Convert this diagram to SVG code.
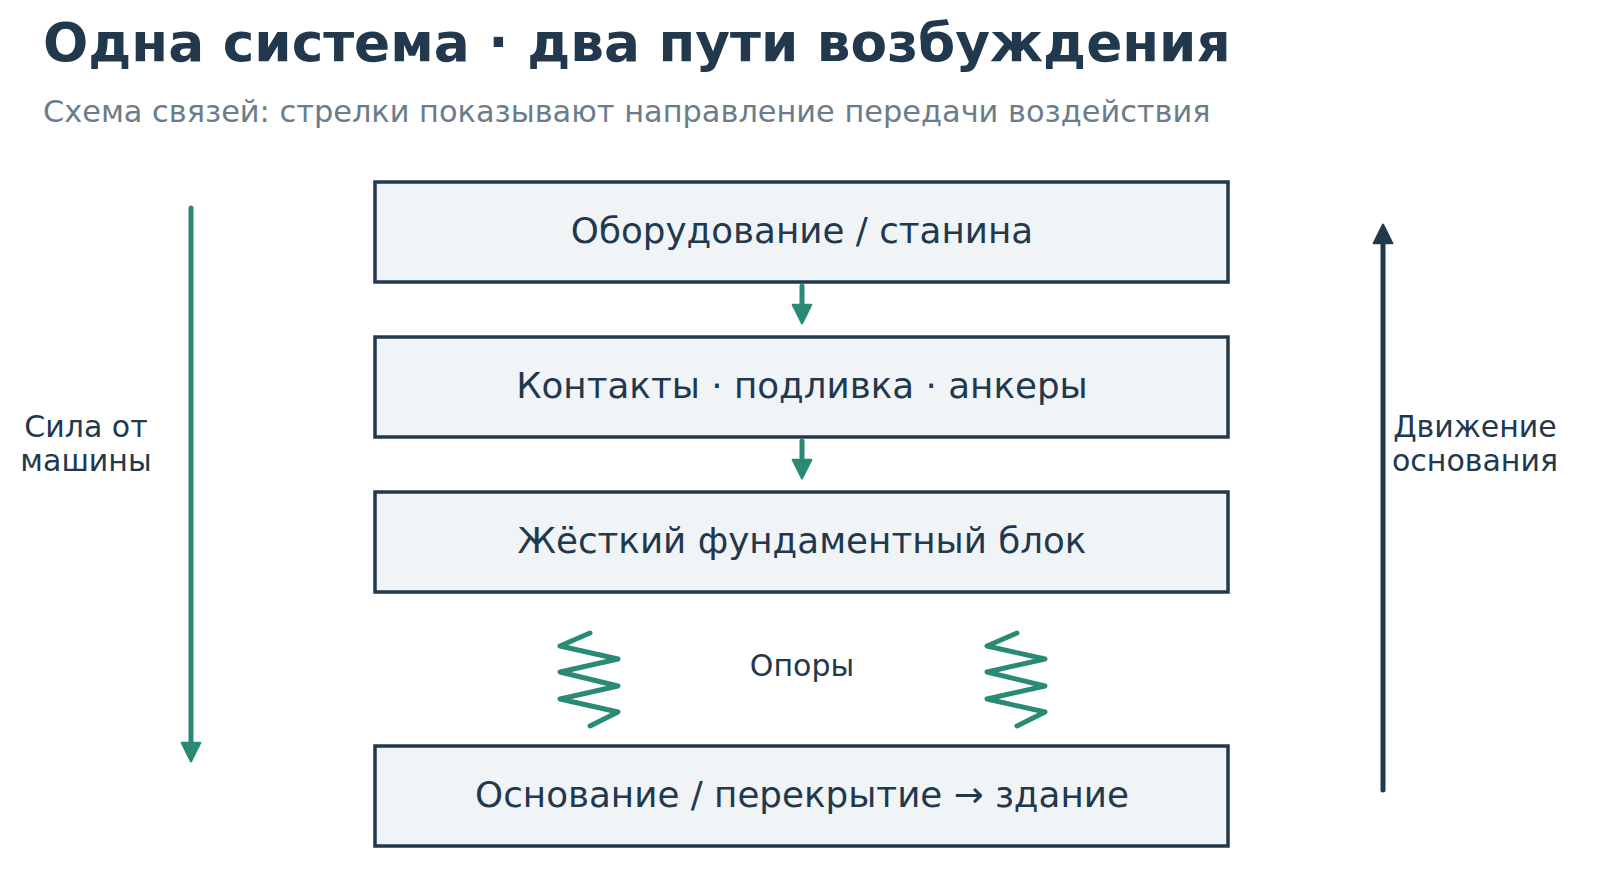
<svg xmlns="http://www.w3.org/2000/svg" width="1600" height="885" viewBox="0 0 1600 885">
<defs>
<style>
text{font-family:"DejaVu Sans","Noto Sans",sans-serif;fill:#22384d}
.box{fill:#f1f4f6;stroke:#22384d;stroke-width:3.5}
.bt{font-size:35.7px;text-anchor:middle}
.lbl{font-size:30px;text-anchor:middle}
.teal{stroke:#2a8a74;stroke-width:5;fill:none;stroke-linecap:round;stroke-linejoin:round}
.dark{stroke:#22384d;stroke-width:5;fill:none;stroke-linecap:round}
</style>
<marker id="ht" viewBox="0 0 10 10" refX="5" refY="5" markerWidth="4.6" markerHeight="4.6" orient="auto"><path d="M1,1 L9,5 L1,9 Z" fill="#2a8a74" stroke="#2a8a74" stroke-linejoin="round"/></marker>
<marker id="hd" viewBox="0 0 10 10" refX="5" refY="5" markerWidth="4.6" markerHeight="4.6" orient="auto"><path d="M1,1 L9,5 L1,9 Z" fill="#22384d" stroke="#22384d" stroke-linejoin="round"/></marker>
</defs>
<rect width="1600" height="885" fill="#fff"/>
<text x="43" y="61" style="font-size:53.3px;font-weight:bold">Одна система · два пути возбуждения</text>
<text x="43" y="122" style="font-size:30.4px;fill:#6b7c8a">Схема связей: стрелки показывают направление передачи воздействия</text>
<g id="n1"><rect class="box" x="375" y="182" width="853" height="100"/><text class="bt" x="802" y="243">Оборудование / станина</text></g>
<g id="n2"><rect class="box" x="375" y="337" width="853" height="100"/><text class="bt" x="802" y="398">Контакты · подливка · анкеры</text></g>
<g id="n3"><rect class="box" x="375" y="492" width="853" height="100"/><text class="bt" x="802" y="553">Жёсткий фундаментный блок</text></g>
<g id="n4"><rect class="box" x="375" y="746" width="853" height="100"/><text class="bt" x="802" y="807">Основание / перекрытие → здание</text></g>
<g id="supports">
<polyline class="teal" points="590,633 560,646 618,659 560,672 618,686 560,699 618,712 590,726"/>
<polyline class="teal" points="1017,633 987,646 1045,659 987,672 1045,686 987,699 1045,712 1017,726"/>
<text class="lbl" x="802" y="676">Опоры</text>
</g>
<g id="connectors">
<line class="teal" x1="802" y1="286" x2="802" y2="314" marker-end="url(#ht)"/>
<line class="teal" x1="802" y1="441" x2="802" y2="469" marker-end="url(#ht)"/>
<line class="teal" x1="191" y1="208" x2="191" y2="752" marker-end="url(#ht)"/>
<line class="dark" x1="1383" y1="790" x2="1383" y2="234" marker-end="url(#hd)"/>
</g>
<g id="side-labels">
<text class="lbl" x="86" y="437">Сила от</text><text class="lbl" x="86" y="471">машины</text>
<text class="lbl" x="1475" y="437">Движение</text><text class="lbl" x="1475" y="471">основания</text>
</g>
</svg>
